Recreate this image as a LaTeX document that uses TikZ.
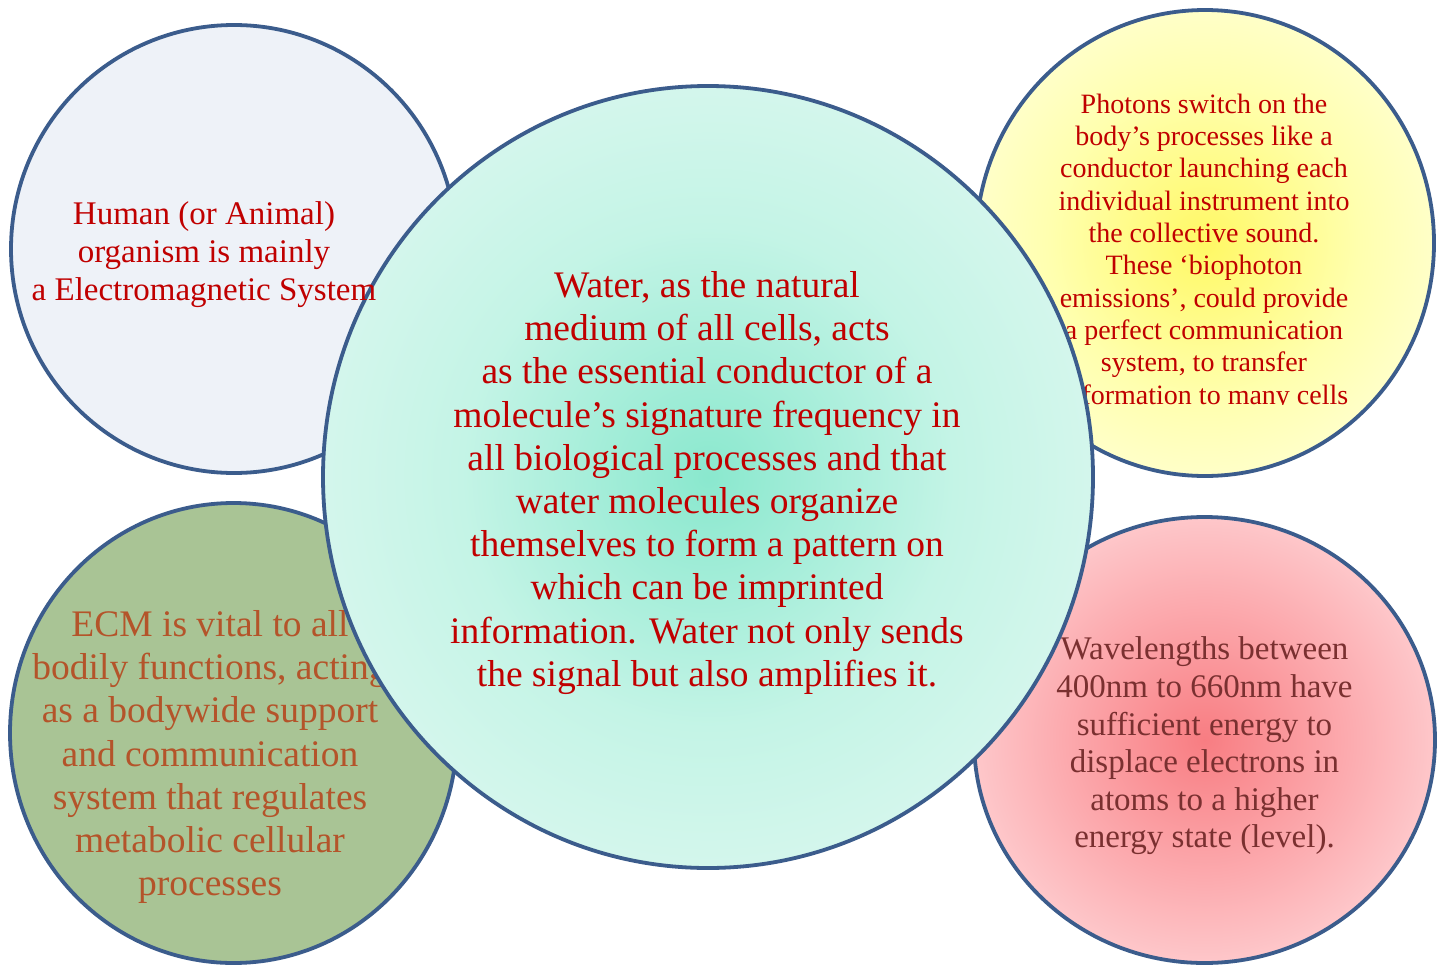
\documentclass[tikz,border=0pt]{standalone}
\usepackage{fontspec}
\setmainfont{Liberation Serif}
\usetikzlibrary{shapes.geometric}
\definecolor{bordercol}{RGB}{59,92,140}
\definecolor{tlfill}{RGB}{238,242,248}
\definecolor{blfill}{RGB}{169,196,149}
\definecolor{cin}{RGB}{138,232,206}
\definecolor{cmid}{RGB}{196,244,230}
\definecolor{cout}{RGB}{222,248,240}
\definecolor{yin}{RGB}{255,248,100}
\definecolor{ymid}{RGB}{255,255,175}
\definecolor{yout}{RGB}{255,255,222}
\definecolor{pin}{RGB}{248,125,130}
\definecolor{pmid}{RGB}{252,172,176}
\definecolor{pout}{RGB}{255,220,222}
\definecolor{txtred}{RGB}{192,0,0}
\definecolor{txtbrown}{RGB}{180,84,42}
\definecolor{txtdark}{RGB}{122,48,48}
\pgfdeclareradialshading{cshade}{\pgfpoint{0bp}{0bp}}{color(0bp)=(cin); color(16bp)=(cmid); color(31bp)=(cout); color(50bp)=(cout)}
\pgfdeclareradialshading{yshade}{\pgfpoint{0bp}{0bp}}{color(0bp)=(yin); color(17bp)=(ymid); color(32bp)=(yout); color(50bp)=(yout)}
\pgfdeclareradialshading{pshade}{\pgfpoint{0bp}{0bp}}{color(0bp)=(pin); color(16bp)=(pmid); color(32bp)=(pout); color(50bp)=(pout)}
\tikzset{
  bubble/.style={ellipse, draw=bordercol, line width=3.8pt, inner sep=0pt, outer sep=0pt},
  txt/.style={align=center, inner sep=0pt, outer sep=0pt}
}
\begin{document}
\begin{tikzpicture}[x=1pt, y=-1pt]
\useasboundingbox (0,0) rectangle (1447,966);
\fill[white] (0,0) rectangle (1447,966);
% top-left
\node[bubble, fill=tlfill, minimum width=446pt, minimum height=448pt] (tl) at (234,249) {};
% bottom-left
\node[bubble, fill=blfill, minimum width=447pt, minimum height=460pt] (bl) at (233.5,733) {};
\node[txt, text=txtbrown, font=\fontsize{37.5}{43.3}\selectfont] (bltext) at (210,757)
  {ECM is vital to all\\bodily functions, acting\\as a bodywide support\\and communication\\system that regulates\\metabolic cellular\\processes};
% top-right
\node[bubble, shade, shading=yshade, minimum width=458pt, minimum height=466pt] (tr) at (1205,243) {};
\begin{scope}
\clip (960,0) rectangle (1447,404.5);
\node[txt, text=txtred, font=\fontsize{28}{32.3}\selectfont] (trtext) at (1204,252)
  {Photons switch on the\\body’s processes like a\\conductor launching each\\individual instrument into\\the collective sound.\\These ‘biophoton\\emissions’, could provide\\a perfect communication\\system, to transfer\\information to many cells};
\end{scope}
% bottom-right
\node[bubble, shade, shading=pshade, minimum width=461pt, minimum height=446pt] (br) at (1204.5,740) {};
\node[txt, text=txtdark, font=\fontsize{33}{37.6}\selectfont] (brtext) at (1204.5,746)
  {Wavelengths between\\400nm to 660nm have\\sufficient energy to\\displace electrons in\\atoms to a higher\\energy state (level).};
% centre
\node[bubble, shade, shading=cshade, minimum width=770pt, minimum height=782pt] (c) at (708,477) {};
\node[txt, text=txtred, font=\fontsize{37.5}{43.2}\selectfont] (ctext) at (707,483)
  {Water, as the natural\\medium of all cells, acts\\as the essential conductor of a\\molecule’s signature frequency in\\all biological processes and that\\water molecules organize\\themselves to form a pattern on\\which can be imprinted\\information. Water not only sends\\the signal but also amplifies it.};
% top-left text
\node[txt, text=txtred, font=\fontsize{33}{38}\selectfont] (tltext) at (204,255)
  {Human (or Animal)\\organism is mainly\\a Electromagnetic System};
\end{tikzpicture}
\end{document}
